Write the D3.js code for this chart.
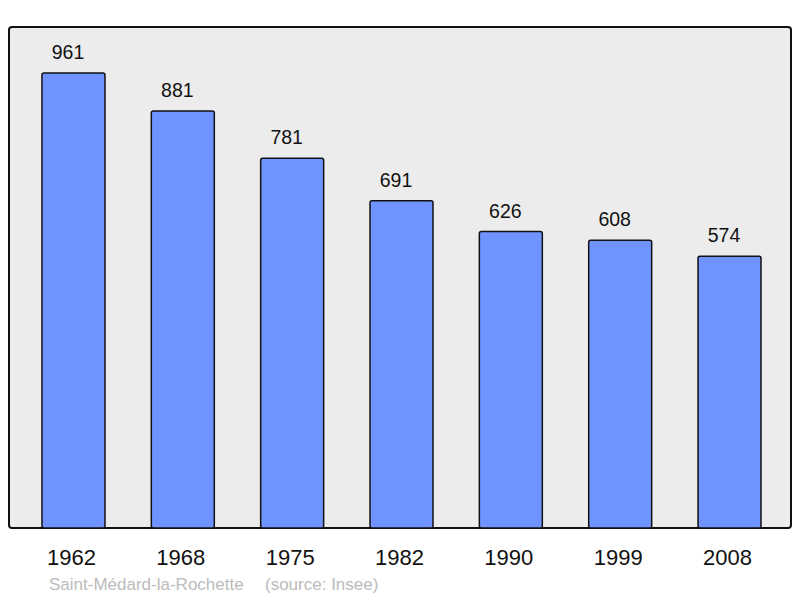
<!DOCTYPE html>
<html><head><meta charset="utf-8">
<script src="https://cdn.jsdelivr.net/npm/d3@7"></script>
<style>body{margin:0;background:#fff}svg{display:block}</style>
</head><body>
<svg id="c" width="800" height="598"></svg>
<script>
const years = ["1962","1968","1975","1982","1990","1999","2008"];
const population = [961,881,781,691,626,608,574];
const caption = "Saint-Médard-la-Rochette";
const source = "(source: Insee)";

const svg = d3.select("#c");
const font = "Liberation Sans, Arial, sans-serif";

svg.append("rect").attr("x",9).attr("y",27).attr("width",782).attr("height",501)
  .attr("rx",3).attr("fill","#ececec").attr("stroke","#111").attr("stroke-width",2);

const x = d3.scaleBand().domain(years).range([18.8,784.2]).paddingInner(0.424).paddingOuter(0.212);
const y = d3.scaleLinear().domain([0,961]).range([528,73]);

const data = years.map((yr,i)=>({yr, v:population[i]}));

svg.selectAll("rect.bar").data(data).enter().append("rect").attr("class","bar")
  .attr("x",d=>x(d.yr)).attr("width",x.bandwidth())
  .attr("y",d=>y(d.v)).attr("height",d=>y(0)-y(d.v))
  .attr("rx",2).attr("fill","#7094ff").attr("stroke","#111").attr("stroke-width",1.5);

svg.selectAll("text.val").data(data).enter().append("text").attr("class","val")
  .attr("x",d=>x(d.yr)+x.bandwidth()/2-5.5).attr("y",d=>y(d.v)-14)
  .attr("text-anchor","middle").attr("font-family",font).attr("font-size",19.5).attr("fill","#111")
  .text(d=>d.v);

svg.selectAll("text.yr").data(data).enter().append("text").attr("class","yr")
  .attr("x",d=>x(d.yr)+x.bandwidth()/2-2).attr("y",565)
  .attr("text-anchor","middle").attr("font-family",font).attr("font-size",22).attr("fill","#111")
  .text(d=>d.yr);

svg.append("text").attr("x",49).attr("y",590).attr("font-family",font).attr("font-size",17)
  .attr("fill","#bbbbbb").text(caption);
svg.append("text").attr("x",265).attr("y",590).attr("font-family",font).attr("font-size",17)
  .attr("fill","#bbbbbb").text(source);
</script>
</body></html>
